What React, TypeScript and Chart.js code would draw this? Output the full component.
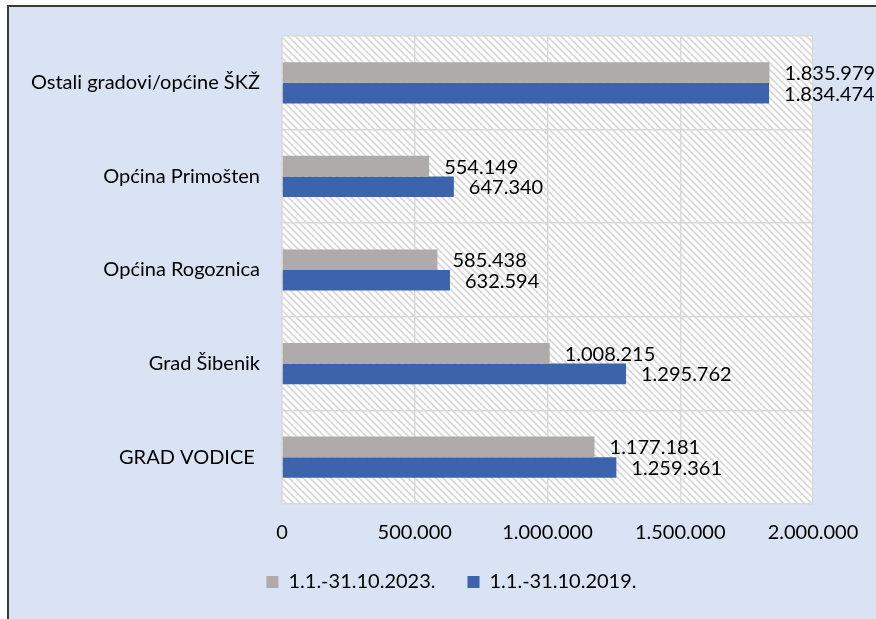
import React, { useEffect, useRef } from "react";
import { Chart, registerables } from "chart.js";

Chart.register(...registerables);

const categories = [
  "Ostali gradovi/općine ŠKŽ",
  "Općina Primošten",
  "Općina Rogoznica",
  "Grad Šibenik",
  "GRAD VODICE ",
];
const seriesLabels = ["1.1.-31.10.2023.", "1.1.-31.10.2019."];
const values2023 = [1835979, 554149, 585438, 1008215, 1177181];
const values2019 = [1834474, 647340, 632594, 1295762, 1259361];
const xTickValues = [0, 500000, 1000000, 1500000, 2000000];

const FONT = "Lato";
const FS = 20;
const fmt = (v: number) => Math.round(v).toString().replace(/\B(?=(\d{3})+(?!\d))/g, ".");

function makeHatch(): CanvasPattern | string {
  const c = document.createElement("canvas");
  c.width = 7;
  c.height = 7;
  const g = c.getContext("2d");
  if (!g) return "#fff";
  g.fillStyle = "#ffffff";
  g.fillRect(0, 0, 7, 7);
  g.strokeStyle = "#d9d9d9";
  g.lineWidth = 1.8;
  g.beginPath();
  g.moveTo(-2, -2);
  g.lineTo(9, 9);
  g.moveTo(-9, -2);
  g.lineTo(2, 9);
  g.moveTo(5, -2);
  g.lineTo(16, 9);
  g.stroke();
  const p = g.createPattern(c, "repeat");
  return p || "#fff";
}

export default function App() {
  const ref = useRef<HTMLCanvasElement>(null);
  useEffect(() => {
    if (!ref.current) return;
    const hatch = makeHatch();
    const bgPlugin = {
      id: "plotBg",
      afterLayout(chart: any) {
        if (chart.legend) {
          chart.legend.left += 45;
          chart.legend.right += 45;
        }
      },
      beforeDraw(chart: any) {
        const { ctx, chartArea } = chart;
        ctx.save();
        ctx.fillStyle = hatch;
        ctx.fillRect(chartArea.left, chartArea.top, chartArea.right - chartArea.left, chartArea.bottom - chartArea.top);
        ctx.restore();
      },
    };
    const labelPlugin = {
      id: "valLabels",
      afterDatasetsDraw(chart: any) {
        const { ctx } = chart;
        ctx.save();
        ctx.font = `${FS}px ${FONT}`;
        ctx.fillStyle = "#000";
        ctx.textAlign = "left";
        ctx.textBaseline = "middle";
        chart.data.datasets.forEach((ds: any, di: number) => {
          const meta = chart.getDatasetMeta(di);
          meta.data.forEach((el: any, i: number) => {
            ctx.fillText(fmt(ds.data[i]), el.x + 15, el.y + 1);
          });
        });
        ctx.restore();
      },
    };
    const chart = new Chart(ref.current, {
      type: "bar",
      data: {
        labels: categories,
        datasets: [
          {
            label: seriesLabels[0],
            data: values2023,
            backgroundColor: "#afabab",
            barPercentage: 1,
            categoryPercentage: 0.44,
          },
          {
            label: seriesLabels[1],
            data: values2019,
            backgroundColor: "#3b64ad",
            barPercentage: 1,
            categoryPercentage: 0.44,
          },
        ],
      },
      options: {
        indexAxis: "y",
        animation: false,
        responsive: false,
        maintainAspectRatio: false,
        layout: { padding: { top: 36, right: 63, left: 0, bottom: 17 } },
        scales: {
          x: {
            min: 0,
            max: 2000000,
            afterBuildTicks(scale: any) {
              scale.ticks = xTickValues.map((v) => ({ value: v }));
            },
            afterFit(scale: any) {
              scale.height = 36;
            },
            ticks: {
              callback: (v: any) => fmt(Number(v)),
              font: { family: FONT, size: FS },
              color: "#000",
              padding: 17,
              maxRotation: 0,
            },
            grid: { color: "#d9d9d9", lineWidth: 1.5, drawTicks: false },
            border: { display: false },
          },
          y: {
            afterFit(scale: any) {
              scale.width = 282;
            },
            ticks: {
              font: { family: FONT, size: FS },
              color: "#000",
              padding: 22,
            },
            grid: { color: "#d9d9d9", lineWidth: 1.5, drawTicks: false },
            border: { color: "#d9d9d9", width: 1.5 },
          },
        },
        plugins: {
          legend: {
            position: "bottom",
            labels: {
              font: { family: FONT, size: FS },
              color: "#000",
              boxWidth: 12,
              boxHeight: 12,
              padding: 32,
            },
          },
          tooltip: { enabled: false },
        },
      },
      plugins: [bgPlugin, labelPlugin],
    } as any);
    return () => chart.destroy();
  }, []);
  return (
    <div style={{ position: "fixed", left: 0, top: 0, width: 876, height: 619, background: "#fff", overflow: "hidden" }}>
      <div
        style={{
          position: "absolute",
          left: 7,
          top: 5,
          width: 1000,
          height: 1000,
          background: "#dae3f3",
          borderTop: "2px solid #3a3a3a",
          borderLeft: "2px solid #3a3a3a",
        }}
      />
      <canvas ref={ref} width={876} height={619} style={{ position: "absolute", left: 0, top: 0, width: 876, height: 619 }} />
    </div>
  );
}
